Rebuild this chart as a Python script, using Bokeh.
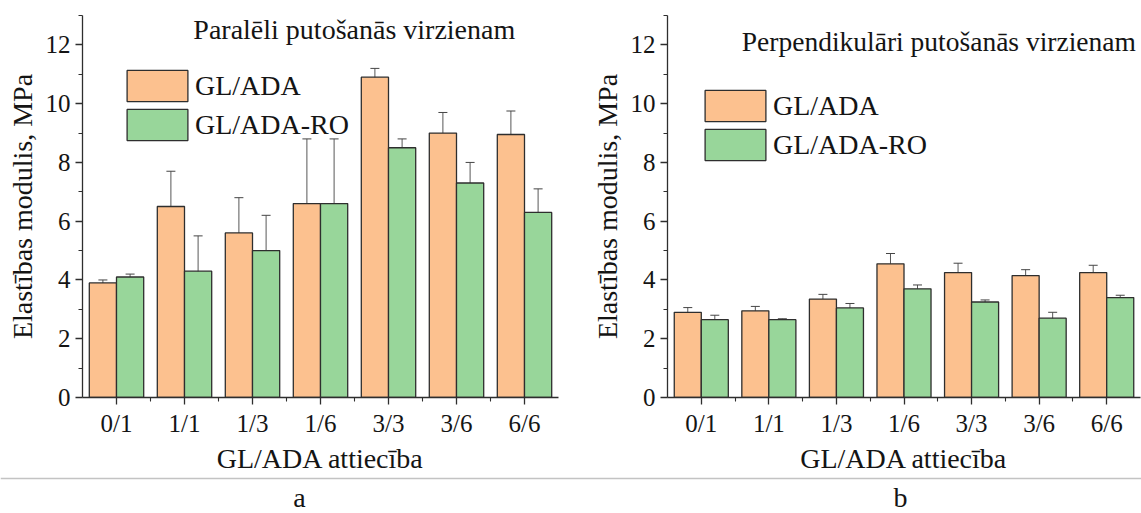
from bokeh.plotting import figure
from bokeh.models import (Range1d, FixedTicker, Whisker, TeeHead, ColumnDataSource,
                          Legend, LegendItem, Label, Span)
from bokeh.layouts import row, column
from bokeh.embed import file_html
from bokeh.resources import INLINE
import numpy as np

# Mixing ratio categories (GL/ADA)
categories = ["0/1", "1/1", "1/3", "1/6", "3/3", "3/6", "6/6"]

# Elastic modulus parallel to the foaming direction, MPa
par_gl_ada = [3.9, 6.5, 5.6, 6.6, 10.9, 9.0, 8.95]
par_gl_ada_err = [0.1, 1.2, 1.2, 2.2, 0.3, 0.7, 0.8]
par_gl_ada_ro = [4.1, 4.3, 5.0, 6.6, 8.5, 7.3, 6.3]
par_gl_ada_ro_err = [0.1, 1.2, 1.2, 2.2, 0.3, 0.7, 0.8]

# Elastic modulus perpendicular to the foaming direction, MPa
perp_gl_ada = [2.9, 2.95, 3.35, 4.55, 4.25, 4.15, 4.25]
perp_gl_ada_err = [0.16, 0.15, 0.16, 0.35, 0.32, 0.2, 0.25]
perp_gl_ada_ro = [2.65, 2.65, 3.05, 3.7, 3.25, 2.7, 3.4]
perp_gl_ada_ro_err = [0.15, 0.03, 0.15, 0.13, 0.07, 0.2, 0.08]

y_ticks = [0, 2, 4, 6, 8, 10, 12]
y_minor_ticks = [1, 3, 5, 7, 9, 11, 13]

series_names = ["GL/ADA", "GL/ADA-RO"]
titles = ["Paralēli putošanās virzienam", "Perpendikulāri putošanās virzienam"]
y_label = "Elastības modulis, MPa"
x_label = "GL/ADA attiecība"
panel_letters = ["a", "b"]

FONT = "Liberation Serif"
ORANGE = "#FCC18F"
GREEN = "#98D69A"
EDGE = "#2e2e2e"
ERR = "#454545"
TEXT = "#141414"


def make_panel(gl, gl_err, ro, ro_err, title, title_pos, title_size, legend_pos,
               width, border_left, border_right):
    p = figure(width=width, height=476, x_range=Range1d(0.5, 7.5),
               y_range=Range1d(0, 13), title=None, toolbar_location=None,
               output_backend="svg", min_border_left=border_left,
               min_border_right=border_right, min_border_top=15,
               min_border_bottom=77)
    p.outline_line_color = None
    p.xgrid.visible = False
    p.ygrid.visible = False
    p.background_fill_color = "white"
    p.border_fill_color = "white"

    pos = np.arange(1, len(categories) + 1)
    half = 0.2
    renderers = []
    for vals, errs, color, shift in ((gl, gl_err, ORANGE, -half),
                                      (ro, ro_err, GREEN, half)):
        vals = np.asarray(vals, dtype=float)
        errs = np.asarray(errs, dtype=float)
        src = ColumnDataSource(dict(x=pos + shift, top=vals,
                                    upper=vals + errs, lower=vals - errs))
        r = p.vbar(x="x", top="top", width=0.4, source=src,
                   fill_color=color, line_color=EDGE, line_width=1.3)
        renderers.append(r)
        wh = Whisker(source=src, base="x", upper="upper", lower="lower",
                     line_color=ERR, line_width=1, line_alpha=0.9,
                     upper_head=TeeHead(size=9, line_color=ERR, line_width=1),
                     lower_head=TeeHead(size=9, line_color=ERR, line_width=1))
        p.add_layout(wh)

    # axes
    p.xaxis.ticker = FixedTicker(ticks=list(range(1, 8)),
                                 minor_ticks=[1.5, 2.5, 3.5, 4.5, 5.5, 6.5])
    p.xaxis.major_label_overrides = {i + 1: c for i, c in enumerate(categories)}
    p.yaxis.ticker = FixedTicker(ticks=y_ticks, minor_ticks=y_minor_ticks)
    for ax in (p.xaxis[0], p.yaxis[0]):
        ax.axis_line_color = EDGE
        ax.axis_line_width = 1.3
        ax.major_tick_line_color = EDGE
        ax.major_tick_line_width = 1.3
        ax.minor_tick_line_color = EDGE
        ax.minor_tick_line_width = 1.1
        ax.major_tick_out = 7
        ax.major_tick_in = 0
        ax.minor_tick_out = 4
        ax.minor_tick_in = 0
        ax.major_label_text_font = FONT
        ax.major_label_text_font_size = "25px"
        ax.major_label_text_color = TEXT
        ax.major_label_standoff = 5
        ax.axis_label_text_font = FONT
        ax.axis_label_text_font_size = "28px"
        ax.axis_label_text_font_style = "normal"
        ax.axis_label_text_color = TEXT
    p.xaxis.axis_label = x_label
    p.xaxis.axis_label_standoff = 3
    p.yaxis.axis_label = y_label
    p.yaxis.axis_label_standoff = 5

    # in-plot title
    p.add_layout(Label(x=title_pos[0], y=title_pos[1], text=title,
                       text_font=FONT, text_font_size=title_size,
                       text_color=TEXT, text_baseline="alphabetic"))

    legend = Legend(items=[LegendItem(label=series_names[0], renderers=[renderers[0]]),
                           LegendItem(label=series_names[1], renderers=[renderers[1]])],
                    location=legend_pos, orientation="vertical",
                    glyph_width=76, glyph_height=39, spacing=-9,
                    label_standoff=0, padding=0, margin=0,
                    label_text_font=FONT, label_text_font_size="28px",
                    label_text_color=TEXT, label_text_baseline="middle",
                    border_line_color=None, background_fill_alpha=0)
    p.add_layout(legend)
    return p


p1 = make_panel(par_gl_ada, par_gl_ada_err, par_gl_ada_ro, par_gl_ada_ro_err,
                titles[0], (2.13, 12.52), "28px", (37, 253),
                width=588, border_left=82, border_right=30)
p2 = make_panel(perp_gl_ada, perp_gl_ada_err, perp_gl_ada_ro, perp_gl_ada_ro_err,
                titles[1], (1.60, 12.12), "27.5px", (30, 233),
                width=553, border_left=74, border_right=1)

# caption strip with the separator rule and the panel letters
p3 = figure(width=1141, height=37, x_range=Range1d(0, 1141), y_range=Range1d(0, 37),
            x_axis_type=None, y_axis_type=None, title=None, toolbar_location=None,
            output_backend="svg", min_border=0)
p3.outline_line_color = None
p3.xgrid.visible = False
p3.ygrid.visible = False
p3.add_layout(Span(location=35, dimension="width", line_color="#c3c3c3", line_width=1.5))
for letter, xc in zip(panel_letters, (299, 900)):
    p3.add_layout(Label(x=xc, y=16, text=letter, text_font=FONT, text_font_size="28px",
                        text_color=TEXT, text_align="center", text_baseline="middle"))

layout = column(row(p1, p2), p3)
open("out.html", "w").write(file_html(layout, INLINE))
